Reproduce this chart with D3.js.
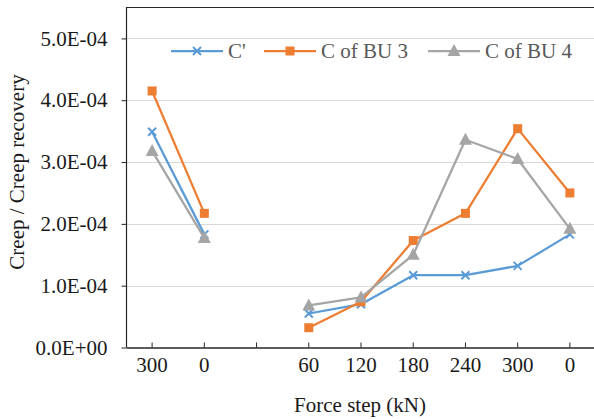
<!DOCTYPE html>
<html>
<head>
<meta charset="utf-8">
<script src="https://cdn.jsdelivr.net/npm/d3@7"></script>
<style>
  body { margin: 0; background: #fff; }
  svg { display: block; font-family: "Liberation Serif", "Times New Roman", serif; }
</style>
</head>
<body>
<svg width="594" height="419"></svg>
<script>
// categories on the x axis (one empty slot between the two load phases)
var forceSteps = ["300", "0", "", "60", "120", "180", "240", "300", "0"];

// series values (null = no point)
var cPrime = [3.49e-4, 1.83e-4, null, 5.5e-5, 7.0e-5, 1.17e-4, 1.17e-4, 1.32e-4, 1.83e-4];
var cBU3   = [4.15e-4, 2.17e-4, null, 3.2e-5, 7.4e-5, 1.73e-4, 2.17e-4, 3.54e-4, 2.50e-4];
var cBU4   = [3.18e-4, 1.77e-4, null, 6.8e-5, 8.1e-5, 1.50e-4, 3.36e-4, 3.05e-4, 1.92e-4];

var yTicks = [0, 1e-4, 2e-4, 3e-4, 4e-4, 5e-4];
var seriesNames = ["C'", "C of BU 3", "C of BU 4"];

var series = [
  { name: seriesNames[0], values: cPrime, color: "#5B9BD5", marker: "cross" },
  { name: seriesNames[1], values: cBU3, color: "#ED7D31", marker: "square" },
  { name: seriesNames[2], values: cBU4, color: "#A5A5A5", marker: "triangle" }
];

var svg = d3.select("svg"),
    plotLeft = 126, plotRight = 596, plotTop = 7.5, plotBottom = 347.5;

var x = d3.scaleBand().domain(d3.range(forceSteps.length)).range([plotLeft, plotRight]).padding(0),
    y = d3.scaleLinear().domain([0, 5.5e-4]).range([plotBottom, plotTop]);

function cx(i) { return x(i) + x.bandwidth() / 2; }

// gridlines
svg.append("g")
  .selectAll("line")
  .data(yTicks.slice(1))
  .enter().append("line")
  .attr("x1", plotLeft).attr("x2", plotRight)
  .attr("y1", function (d) { return Math.round(y(d)) + 0.5; })
  .attr("y2", function (d) { return Math.round(y(d)) + 0.5; })
  .attr("stroke", "#d9d9d9").attr("stroke-width", 1);

// plot frame (top and left)
svg.append("path")
  .attr("d", "M" + (plotLeft + 0.5) + "," + plotBottom + "V" + plotTop + "H" + plotRight)
  .attr("fill", "none").attr("stroke", "#262626").attr("stroke-width", 1.2);

// y axis
var yAxis = svg.append("g")
  .attr("transform", "translate(" + (plotLeft + 0.5) + ",0)")
  .call(d3.axisLeft(y).tickValues(yTicks).tickSize(5).tickPadding(14)
    .tickFormat(function (d) { return d === 0 ? "0.0E+00" : d.toExponential(1).replace("e-", "E-0"); }));
yAxis.select(".domain").remove();
yAxis.selectAll(".tick line").attr("stroke", "#262626");
yAxis.selectAll("text").attr("font-size", 21).attr("fill", "#1a1a1a")
  .attr("font-family", "Liberation Serif, serif");

// x axis
var xAxis = svg.append("g")
  .attr("transform", "translate(0," + plotBottom + ")")
  .call(d3.axisBottom(x).tickSize(-5).tickPadding(10).tickSizeOuter(0)
    .tickFormat(function (i) { return forceSteps[i]; }));
xAxis.select(".domain").attr("stroke", "#262626").attr("stroke-width", 1.3);
xAxis.selectAll(".tick line").attr("stroke", "#262626");
xAxis.selectAll("text").attr("font-size", 21).attr("fill", "#1a1a1a")
  .attr("font-family", "Liberation Serif, serif");

// axis titles
svg.append("text")
  .attr("x", 360).attr("y", 412)
  .attr("text-anchor", "middle").attr("font-size", 21).attr("fill", "#1a1a1a")
  .text("Force step (kN)");

svg.append("text")
  .attr("transform", "translate(24,172) rotate(-90)")
  .attr("text-anchor", "middle").attr("font-size", 21).attr("fill", "#1a1a1a")
  .text("Creep / Creep recovery");

// marker drawing
function drawMarker(sel, type, color) {
  if (type === "cross") {
    sel.append("path")
      .attr("d", "M-4,-4L4,4M-4,4L4,-4")
      .attr("stroke", color).attr("stroke-width", 2).attr("fill", "none");
  } else if (type === "square") {
    sel.append("rect")
      .attr("x", -4.5).attr("y", -4.5).attr("width", 9).attr("height", 9)
      .attr("fill", color);
  } else {
    sel.append("path")
      .attr("d", "M0,-7L6.5,5L-6.5,5Z")
      .attr("fill", color);
  }
}

var line = d3.line()
  .defined(function (d) { return d != null; })
  .x(function (d, i) { return cx(i); })
  .y(function (d) { return y(d); });

series.forEach(function (s) {
  var g = svg.append("g");
  g.append("path")
    .datum(s.values)
    .attr("d", line)
    .attr("fill", "none")
    .attr("stroke", s.color)
    .attr("stroke-width", 2.25)
    .attr("stroke-linejoin", "round");
  g.selectAll(".pt")
    .data(s.values.map(function (v, i) { return { v: v, i: i }; })
      .filter(function (d) { return d.v != null; }))
    .enter().append("g")
    .attr("class", "pt")
    .attr("transform", function (d) { return "translate(" + cx(d.i) + "," + y(d.v) + ")"; })
    .each(function () { drawMarker(d3.select(this), s.marker, s.color); });
});

// legend
var legendX = [171, 264, 428];
var legend = svg.append("g").attr("transform", "translate(0,51)");
series.forEach(function (s, k) {
  var lg = legend.append("g").attr("transform", "translate(" + legendX[k] + ",0)");
  lg.append("line").attr("x1", 0).attr("x2", 52).attr("y1", 0).attr("y2", 0)
    .attr("stroke", s.color).attr("stroke-width", 2.25);
  drawMarker(lg.append("g").attr("transform", "translate(26,0)"), s.marker, s.color);
  lg.append("text")
    .attr("x", 57).attr("y", 0).attr("dy", "0.35em")
    .attr("font-size", 21).attr("fill", "#595959")
    .text(s.name);
});
</script>
</body>
</html>
